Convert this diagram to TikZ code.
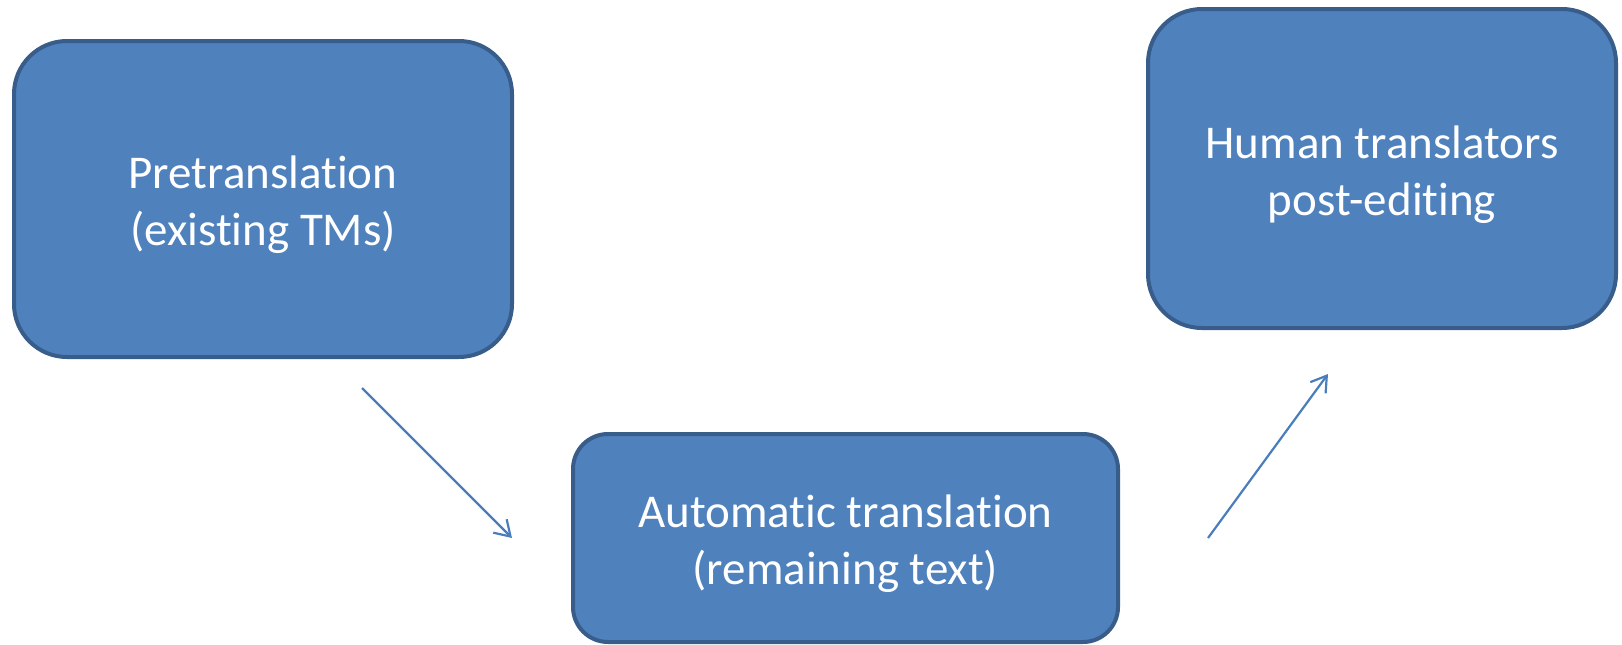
\documentclass[tikz,border=0pt]{standalone}
\usepackage{fontspec}
\setmainfont{Carlito}[Ligatures={NoCommon,NoContextual,NoRare},Contextuals=NoAlternate,RawFeature={-liga,-clig,-calt,-dlig}]
\usetikzlibrary{arrows.meta}
\definecolor{boxfill}{HTML}{4F81BD}
\definecolor{boxline}{HTML}{385D8A}
\definecolor{arrowblue}{HTML}{4A7EBB}
\tikzset{
  stagebox/.style={draw=boxline, fill=boxfill, line width=4pt, inner sep=0pt},
  stagetext/.style={text=white, align=center, inner sep=0pt,
    font=\fontsize{47}{57}\selectfont},
  flow/.style={draw=arrowblue, line width=2.2pt,
    -{Straight Barb[length=15pt,width=19pt,line width=2.2pt]}}
}
\begin{document}
\begin{tikzpicture}[x=1pt,y=-1pt]
\useasboundingbox (0,0) rectangle (1622,645);
% the three process stages
\node[stagebox, minimum width=498pt, minimum height=316pt, rounded corners=53pt]
  (pre) at (263,199) {};
\node[stagebox, minimum width=545pt, minimum height=208pt, rounded corners=35pt]
  (auto) at (845.5,538) {};
\node[stagebox, minimum width=468pt, minimum height=319pt, rounded corners=54pt]
  (human) at (1382,168.5) {};
% their captions, set a little below each box centre
\node[stagetext] (pretext) at ([yshift=-6pt]pre.center) {Pretranslation\\(existing TMs)};
\node[stagetext] (autotext) at ([yshift=-6pt]auto.center) {Automatic translation\\(remaining text)};
\node[stagetext] (humantext) at ([yshift=-6pt]human.center) {Human translators\\post-editing};
% free-standing arrow ends between the stages
\coordinate (a1s) at (362,388);
\coordinate (a1e) at (512,538);
\coordinate (a2s) at (1208,538);
\coordinate (a2e) at (1328,374);
\draw[flow] (a1s) -- (a1e);
\draw[flow] (a2s) -- (a2e);
\end{tikzpicture}
\end{document}
